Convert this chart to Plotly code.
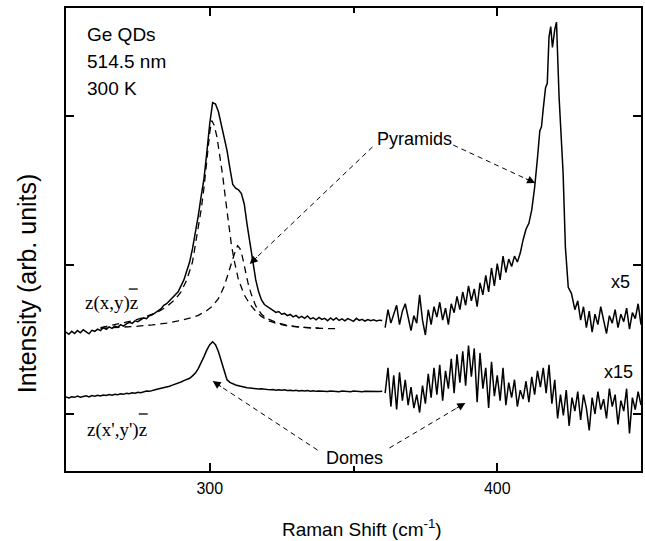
import plotly.graph_objects as go

# ---- z(x,y)z spectrum, low-frequency part (250-360 cm-1) ----
upper_main_x = list(range(250, 361))
upper_main_y = [
    55, 53.5, 55.5, 54, 56, 54.5, 56.5, 55, 53.8, 56.2,
    55.5, 57, 56, 58, 56.8, 58.5, 57.5, 59, 58.2, 60,
    59, 60.5, 61.5, 60.8, 62.5, 62, 63.5, 64.5, 64, 66,
    66.5, 68, 69, 70.5, 73, 74, 76, 78, 80, 82,
    86, 90, 96, 102, 111, 121, 133, 146, 158, 176,
    195, 209, 208, 203, 195, 186, 177, 165, 154, 151.5,
    150.5, 148, 141, 127, 115, 102, 90, 82, 76.5, 73.5,
    72, 70.5, 69.5, 68.2, 68.8, 67, 67.5, 66, 66.8, 65.2,
    66.2, 64.5, 65.5, 64.2, 65.8, 63.8, 64.6, 63.2, 64.8, 63.5,
    64.2, 62.6, 64.5, 63, 64.5, 62.8, 63.9, 62.5, 64, 63.2,
    62.2, 64.2, 62.8, 63.6, 62.4, 63.4, 62.6, 63.2, 62.5, 63, 62.8,
]

# ---- z(x,y)z spectrum, high-frequency part (x5) ----
upper_x5_x = (
    list(range(361, 413))
    + [413, 413.5, 414, 414.8, 415.4, 416, 416.8, 417.4, 418, 418.6,
       419.2, 420, 420.6, 421.5, 422.2, 422.9, 423.7, 424.7, 425.8]
    + list(range(427, 451))
)
upper_x5_y = [
    58, 70, 61, 67, 73, 60, 69, 74, 64, 56,
    66, 61, 80, 63, 53, 70, 60, 72, 65, 75,
    63, 71, 60, 74, 68, 79, 70, 82, 73, 86,
    76, 84, 72, 88, 80, 93, 82, 98, 86, 101,
    90, 106, 95, 104, 99, 106, 102, 108, 117, 124,
    128, 137,
    152, 160, 172, 190, 193, 205, 219, 222, 253, 260,
    246, 258, 263, 213, 185, 162, 112, 85, 81,
    70, 76, 63, 72, 58, 69, 55, 67, 60, 72,
    63, 54, 66, 61, 70, 58, 67, 62, 71, 57,
    68, 64, 74, 60,
]

# ---- z(x',y')z spectrum, low-frequency part ----
lower_main_x = list(range(250, 361))
lower_main_y = [
    11.5, 10.8, 11.6, 11.2, 12, 11.3, 11.8, 12.2, 11.5, 12.4,
    12, 12.6, 12.1, 12.8, 12.4, 13, 12.6, 13.3, 13, 13.6,
    13.2, 13.9, 13.6, 14.2, 13.9, 14.6, 14.3, 15, 15.4, 15.2,
    16, 16.3, 16.8, 17.2, 17.6, 18.2, 18.6, 19.4, 20, 20.8,
    21.5, 22.4, 23.2, 24, 25.6, 27.5, 30.5, 34, 38.5, 43,
    46.5, 48.5, 46.5, 42, 36, 28.5, 23, 21.2, 20.2, 19.5,
    19, 18.4, 18.1, 17.6, 17.5, 17.2, 17, 16.8, 16.9, 16.5,
    16.6, 16.2, 16.4, 16, 16.3, 15.9, 16.2, 15.8, 16, 15.6,
    15.9, 15.5, 15.8, 15.4, 15.7, 15.3, 15.6, 15.2, 15.5, 15.3,
    15.6, 15.1, 15.4, 15.2, 15.5, 15, 15.4, 15.1, 15.3, 15,
    15.4, 15.1, 15.3, 15, 15.2, 15.1, 15.3, 15, 15.2, 15.1, 15.2,
]

# ---- z(x',y')z spectrum, high-frequency part (x15) ----
lower_x15_x = list(range(361, 451))
lower_x15_y = [
    14, 31, 5, 26, 3, 28, 9, 23, 6, 18,
    4, 13, 1, 19, 7, 27, 11, 31, 13, 33,
    9, 29, 17, 37, 14, 40, 21, 42, 19, 46,
    25, 44, 8, 41, 17, 31, 4, 35, 12, 26,
    9, 31, 6, 21, 11, 23, 5, 16, 10, 22,
    8, 25, 13, 29, 18, 31, 14, 33, 7, 23,
    -3, 13, -1, 16, -8, 11, 2, 15, -4, 13,
    4, -11, 11, 0, 15, 3, 10, -3, 17, 5,
    13, -7, 9, 2, 17, -13, 11, 3, 15, 6,
]

# ---- Lorentzian components of the z(x,y)z Ge-Ge band ----
fit1_x = [262, 266, 270, 274, 278, 282, 285, 288, 290, 292,
          294, 296, 297, 298, 299, 300, 300.7, 301.5, 302.5, 303.5,
          304.5, 305.5, 306.5, 307.5, 308.5, 310, 312, 314, 316, 318,
          320.5, 324, 327.5, 332, 336, 340, 344]
fit1_y = [58, 59.5, 61, 63, 65.5, 68.5, 72, 77, 82, 90,
          102, 124, 137, 152, 171, 189, 197, 194, 186, 174,
          160, 144, 128, 114, 103, 90, 80, 73.5, 69, 65.5,
          62.5, 60.3, 59, 58, 57.6, 57.4, 57.3]

fit2_x = [262, 268, 274, 280, 285, 289, 293, 296, 299, 301,
          303, 305, 306.5, 308, 309, 309.7, 310.5, 311.3, 312.3, 313.3,
          314.5, 316, 318, 320, 323, 327, 332, 338]
fit2_y = [57.5, 58, 58.8, 59.8, 61, 62.5, 64.3, 66.2, 69.5, 72.5,
          77.5, 85.5, 94, 104, 110, 113, 111, 106, 97, 88,
          80, 72.5, 67, 64, 61.5, 59.5, 58.2, 57.7]

x_ticks = [300, 400]
x_tick_labels = ["300", "400"]
y_ticks = [0, 100, 200]

BLACK = "#000000"
SANS = "Liberation Sans, Arial, sans-serif"
SERIF = "Liberation Serif, Times New Roman, serif"

fig = go.Figure()

solid = dict(color=BLACK, width=1.5)
for xs, ys in [(upper_main_x, upper_main_y), (upper_x5_x, upper_x5_y),
               (lower_main_x, lower_main_y), (lower_x15_x, lower_x15_y)]:
    fig.add_trace(go.Scatter(x=xs, y=ys, mode="lines", line=solid,
                             showlegend=False, hoverinfo="skip"))

dashed = dict(color=BLACK, width=1.3, dash="7px,5px")
for xs, ys in [(fit1_x, fit1_y), (fit2_x, fit2_y)]:
    fig.add_trace(go.Scatter(x=xs, y=ys, mode="lines", line=dashed,
                             showlegend=False, hoverinfo="skip"))

# dashed pointer lines (tail -> head) with small solid arrowheads
pointers = [
    # (tail_x, tail_y, head_x, head_y, head offset px)
    (356.6, 179.2, 313.9, 100.7, (8.7, -8.3)),
    (384.7, 180.5, 413.2, 155.0, (-10.9, -5.0)),
    (337.5, -24.2, 301.0, 22.1, (10.0, 6.6)),
    (362.5, -22.8, 388.9, 7.4, (-10.3, 6.1)),
]
shapes = []
annotations = []
for tx, ty, hx, hy, (ox, oy) in pointers:
    shapes.append(dict(type="line", xref="x", yref="y", x0=tx, y0=ty,
                       x1=hx, y1=hy,
                       line=dict(color=BLACK, width=1, dash="5px,4px")))
    annotations.append(dict(x=hx, y=hy, xref="x", yref="y", ax=ox, ay=oy,
                            text="", showarrow=True, arrowhead=2,
                            arrowsize=1.6, arrowwidth=1, arrowcolor=BLACK,
                            standoff=0))

def label(text, x, y, size, xanchor="center", family=SANS, xref="x", yref="y"):
    annotations.append(dict(text=text, x=x, y=y, xref=xref, yref=yref,
                            xanchor=xanchor, yanchor="middle",
                            showarrow=False,
                            font=dict(family=family, size=size, color=BLACK)))

label("Ge QDs", 0.033, 0.9417, 19, "left", xref="paper", yref="paper")
label("514.5 nm", 0.033, 0.8834, 19, "left", xref="paper", yref="paper")
label("300 K", 0.033, 0.8272, 19, "left", xref="paper", yref="paper")
label("Pyramids", 371.2, 184.6, 18)
label("Domes", 350.3, -29.5, 18)
label("x5", 442.7, 88.6, 18)
label("x15", 442.0, 28.2, 18)
label("z(x,y)z", 0.029, 0.3629, 19, "left", family=SERIF,
      xref="paper", yref="paper")
label("z(x',y')z", 0.033, 0.0886, 19, "left", family=SERIF,
      xref="paper", yref="paper")

# overbars on the final z of the two polarisation labels
for x0, x1, yb in [(0.1092, 0.1247, 0.393), (0.1265, 0.1421, 0.1231)]:
    shapes.append(dict(type="line", xref="paper", yref="paper",
                       x0=x0, x1=x1, y0=yb, y1=yb,
                       line=dict(color=BLACK, width=1.3)))

# axis titles
annotations.append(dict(text="Raman Shift (cm<sup>-1</sup>)", x=0.5147,
                        y=-0.1231, xref="paper", yref="paper",
                        xanchor="center", yanchor="middle", showarrow=False,
                        font=dict(family=SANS, size=19, color=BLACK)))
annotations.append(dict(text="Intensity (arb. units)", x=-0.0676, y=0.406,
                        xref="paper", yref="paper", xanchor="center",
                        yanchor="middle", showarrow=False, textangle=-90,
                        font=dict(family=SANS, size=25, color=BLACK)))

axis_common = dict(showgrid=False, zeroline=False, showline=True,
                   linecolor=BLACK, linewidth=2, mirror="ticks",
                   ticks="inside", ticklen=8, tickwidth=1.5,
                   tickcolor=BLACK)

fig.update_layout(
    width=645, height=541,
    margin=dict(l=66, r=2, t=8, b=70),
    paper_bgcolor="white", plot_bgcolor="white",
    xaxis=dict(range=[250, 450], tickvals=x_ticks, ticktext=x_tick_labels,
               tickfont=dict(family=SANS, size=16, color=BLACK),
               ticklabelstandoff=2,
               minor=dict(tickvals=[350], ticks="inside", ticklen=5,
                          tickwidth=1.5, tickcolor=BLACK),
               **axis_common),
    yaxis=dict(range=[-38.25, 272.5], tickvals=y_ticks,
               showticklabels=False, **axis_common),
    shapes=shapes,
    annotations=annotations,
)

fig.write_html("out.html")
